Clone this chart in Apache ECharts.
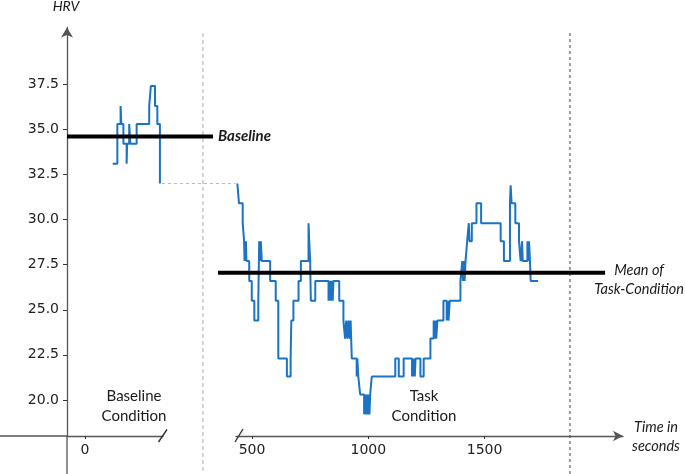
<!DOCTYPE html>
<html><head><meta charset="utf-8">
<script src="https://cdn.jsdelivr.net/npm/echarts@6/dist/echarts.min.js"></script>
<style>html,body{margin:0;padding:0;background:#fff}#c{width:685px;height:474px}</style>
</head><body><div id="c"></div>
<script>
// ---------- data ----------
const baselineTimes = [119, 139, 153, 156, 165, 179, 181, 190, 195, 222, 276, 283, 301, 311, 322];
const baselineHRV   = [33.1, 35.3, 36.3, 35.3, 34.2, 33.1, 34.2, 35.3, 34.2, 35.3, 36.3, 37.4, 36.3, 35.3, 32.0];

const taskTimes = [437, 444, 460, 466, 468, 470, 472, 474, 476, 488, 499, 510, 527, 531, 535, 538, 542,
  578, 602, 613, 650, 666, 669, 678, 700, 710, 743, 746, 750, 753, 772,
  829, 834, 838, 843, 847, 850, 875, 893, 900, 905, 910, 915, 920, 924, 929, 950, 953, 957, 965,
  982, 986, 990, 994, 998, 1002, 1005, 1008, 1015, 1116, 1131, 1152, 1167, 1188, 1191, 1194, 1197, 1200, 1203,
  1210, 1224, 1238, 1267, 1281, 1284, 1288, 1292, 1297, 1301, 1323, 1337, 1341, 1345, 1350, 1396,
  1404, 1407, 1411, 1414, 1418, 1425, 1432, 1435, 1445, 1465, 1485, 1569, 1583, 1609, 1612, 1616,
  1632, 1648, 1655, 1661, 1664, 1684, 1688, 1691, 1695, 1698, 1730];
const taskHRV = [32.0, 30.9, 29.8, 28.8, 27.7, 28.8, 27.7, 28.8, 27.7, 26.6, 25.5, 24.4, 25.5, 28.8, 27.7, 28.8, 27.7,
  26.6, 25.5, 22.3, 21.3, 22.3, 24.4, 25.5, 26.6, 27.7, 29.8, 28.8, 27.7, 25.5, 26.6,
  25.5, 26.6, 25.5, 26.6, 25.5, 26.6, 25.5, 24.4, 23.4, 24.4, 23.4, 24.4, 23.4, 24.4, 22.3, 21.3, 22.3, 21.3, 20.3,
  19.2, 20.3, 19.2, 20.3, 19.2, 20.3, 19.2, 20.3, 21.3, 22.3, 21.3, 22.3, 22.3, 21.3, 22.3, 21.3, 22.3, 21.3, 22.3,
  22.3, 21.3, 22.3, 23.4, 24.4, 23.4, 24.4, 23.4, 24.4, 24.4, 25.5, 24.4, 25.5, 24.4, 25.5, 26.6,
  27.7, 26.6, 27.7, 26.6, 27.7, 28.8, 29.8, 28.8, 29.8, 30.9, 29.8, 28.8, 27.7, 30.9, 31.9, 30.9,
  29.8, 28.8, 27.7, 28.8, 27.7, 28.8, 27.7, 28.8, 27.7, 26.6, 26.6];

const baselineMean = 34.6;
const baselineMeanSpan = [-77.4, 550];
const taskMean = 27.05;
const taskMeanSpan = [354, 2018];

const yTicks = [20, 22.5, 25, 27.5, 30, 32.5, 35, 37.5];
const baselineXTicks = [0];
const taskXTicks = [500, 1000, 1500];
const baselineConditionEdge = 507;  // on baseline time axis
const taskConditionEdge = 1867;     // on task time axis

// ---------- chart ----------
const yMin = 18, yMax = 40.65;
const blue = '#1a73c4';
const axisColor = '#555';
const tickFont = { color: '#222', fontFamily: 'DejaVu Sans', fontSize: 14 };
const zip = (a, b) => a.map((v, i) => [v, b[i]]);

const chart = echarts.init(document.getElementById('c'), null, { renderer: 'canvas' });

const xAxisBase = {
  type: 'value',
  splitLine: { show: false },
  axisLine: { show: true, onZero: false, lineStyle: { color: axisColor, width: 1.3 } },
  axisTick: { show: true, length: 3, lineStyle: { color: '#333' } },
  axisLabel: Object.assign({ margin: 7, formatter: v => String(v) }, tickFont)
};

chart.setOption({
  animation: false,
  backgroundColor: '#fff',
  grid: [
    { left: 67, top: 27.5, width: 96, bottom: 38 },
    { left: 236, top: 27.5, right: 62, bottom: 38 }
  ],
  xAxis: [
    Object.assign({}, xAxisBase, {
      gridIndex: 0, min: -77.4, max: 335.3,
      axisTick: Object.assign({}, xAxisBase.axisTick, { customValues: baselineXTicks }),
      axisLabel: Object.assign({}, xAxisBase.axisLabel, { customValues: baselineXTicks })
    }),
    Object.assign({}, xAxisBase, {
      gridIndex: 1, min: 431.2, max: 2095,
      axisLine: { show: true, onZero: false, symbol: ['none', 'arrow'], symbolSize: [8, 10],
        lineStyle: { color: axisColor, width: 1.3 } },
      axisTick: Object.assign({}, xAxisBase.axisTick, { customValues: taskXTicks }),
      axisLabel: Object.assign({}, xAxisBase.axisLabel, { customValues: taskXTicks })
    })
  ],
  yAxis: [
    {
      gridIndex: 0, type: 'value', min: yMin, max: yMax,
      splitLine: { show: false },
      axisLine: { show: true, onZero: false, symbol: ['none', 'arrow'], symbolSize: [9, 10],
        lineStyle: { color: axisColor, width: 1.3 } },
      axisTick: { show: true, length: 4, customValues: yTicks, lineStyle: { color: '#333' } },
      axisLabel: Object.assign({ margin: 8, customValues: yTicks, formatter: v => Number(v).toFixed(1) }, tickFont)
    },
    { gridIndex: 1, type: 'value', min: yMin, max: yMax, show: false }
  ],
  series: [
    { type: 'line', xAxisIndex: 0, yAxisIndex: 0, step: 'end', symbol: 'none', silent: true,
      lineStyle: { color: blue, width: 2 }, data: zip(baselineTimes, baselineHRV), z: 2 },
    { type: 'line', xAxisIndex: 1, yAxisIndex: 1, step: 'end', symbol: 'none', silent: true,
      lineStyle: { color: blue, width: 2 }, data: zip(taskTimes, taskHRV), z: 2 }
  ]
});

// ---------- decorations anchored to the axes ----------
const px = (g, pt) => chart.convertToPixel({ gridIndex: g }, pt);
const origin = px(0, [-77.4, yMin]);
const axisX = origin[0], axisY = origin[1];
const H = 474;
const g0Right = px(0, [335.3, yMin])[0];
const g1Left = px(1, [431.2, yMin])[0];
const bEnd = px(0, [baselineTimes[baselineTimes.length - 1], baselineHRV[baselineHRV.length - 1]]);
const tStart = px(1, [taskTimes[0], taskHRV[0]]);
const edge1 = px(0, [baselineConditionEdge, yMin])[0];
const edge2 = px(1, [taskConditionEdge, yMin])[0];
const bMeanA = px(0, [baselineMeanSpan[0], baselineMean]);
const bMeanB = px(0, [baselineMeanSpan[1], baselineMean]);
const tMeanA = px(1, [taskMeanSpan[0], taskMean]);
const tMeanB = px(1, [taskMeanSpan[1], taskMean]);

const lineEl = (x1, y1, x2, y2, style, z) => ({ type: 'line', silent: true, z: z || 10,
  shape: { x1, y1, x2, y2 }, style: Object.assign({ stroke: axisColor, lineWidth: 1.3 }, style) });
const textEl = (x, y, text, style) => ({ type: 'text', silent: true, z: 20, x, y,
  style: Object.assign({ text, fill: '#1a1a1a', fontFamily: 'Lato', fontSize: 14.5,
    align: 'center', verticalAlign: 'middle', lineHeight: 19 }, style) });

chart.setOption({
  graphic: [
    lineEl(axisX, axisY, axisX, H),
    lineEl(0, axisY, axisX, axisY),
    lineEl(g0Right - 4.5, axisY + 6, g0Right + 4, axisY - 6.5, { stroke: '#333', lineWidth: 1.4 }),
    lineEl(g1Left - 1, axisY + 6, g1Left + 7, axisY - 7, { stroke: '#333', lineWidth: 1.4 }),
    lineEl(edge1, 33, edge1, H, { stroke: '#aaa', lineWidth: 1, lineDash: [4, 3] }),
    lineEl(edge2, 33, edge2, H, { stroke: '#444', lineWidth: 1, lineDash: [3, 3] }),
    lineEl(bEnd[0] + 2, bEnd[1], tStart[0] - 2, tStart[1], { stroke: '#bbb', lineWidth: 1, lineDash: [3, 3] }),
    lineEl(bMeanA[0], bMeanA[1], bMeanB[0], bMeanB[1], { stroke: '#000', lineWidth: 4 }, 30),
    lineEl(tMeanA[0], tMeanA[1], tMeanB[0], tMeanB[1], { stroke: '#000', lineWidth: 4 }, 30),
    textEl(axisX - 1, 6, 'HRV', { fontStyle: 'italic', fontSize: 14 }),
    textEl(bMeanB[0] + 5, bMeanB[1], 'Baseline', { align: 'left', fontStyle: 'italic', fontWeight: 'bold', fontSize: 15 }),
    textEl(tMeanB[0] + 34, tMeanB[1] + 7.5, 'Mean of\nTask-Condition', { fontStyle: 'italic' }),
    textEl(656, 437, 'Time in\nseconds', { fontStyle: 'italic' }),
    textEl(134, 406, 'Baseline\nCondition', { fontSize: 15, lineHeight: 20 }),
    textEl(424, 406, 'Task\nCondition', { fontSize: 15, lineHeight: 20 })
  ]
});
</script>
</body></html>
